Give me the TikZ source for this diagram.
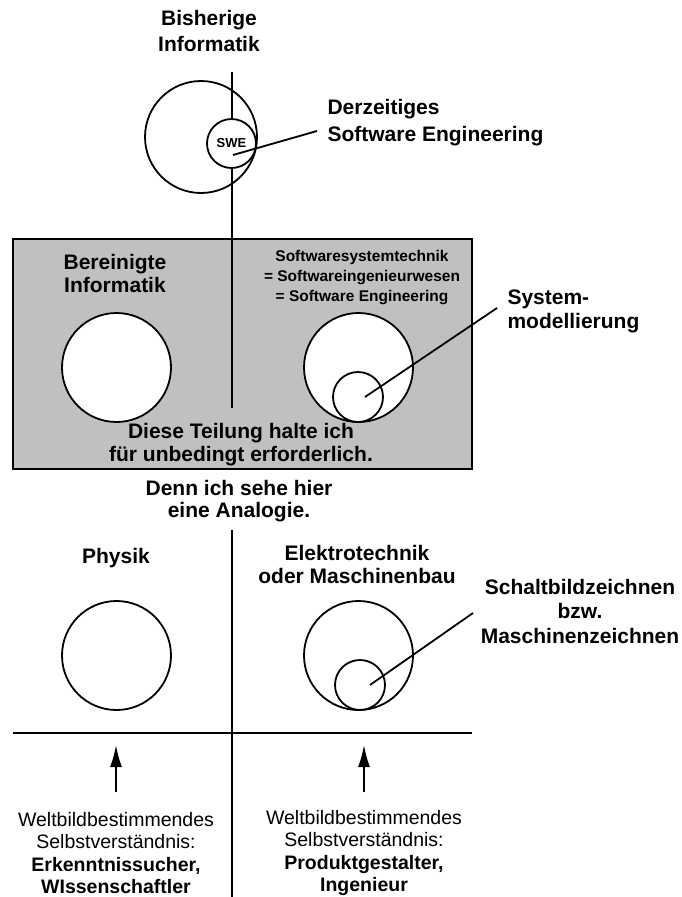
\documentclass[tikz,border=0pt]{standalone}
\usepackage{fontspec}
\setmainfont{Liberation Sans}
\usetikzlibrary{arrows.meta}
\definecolor{boxgray}{RGB}{192,192,192}
\tikzset{ %inner sep = 0.5mm,
  >={Latex[length=22pt,width=12pt]},
  {line/.style} ={draw,line width=1.8pt},
  {ring/.style} ={circle,draw,line width=1.8pt,inner sep=0,minimum size=#1},
  {ring/.default} =109pt,
  {white ring/.style} ={ring=#1,fill=white},
  {white ring/.default} =109pt,
  {heading/.style} ={align=center,font=\bfseries\fontsize{21}{#1}\selectfont},
  {heading/.default} =24pt,
  {left heading/.style} ={heading=#1,align=left,anchor=west},
  {small heading/.style} ={align=center,font=\bfseries\fontsize{15.5}{20}\selectfont},
  {role/.style} ={align=center,inner sep=0,font=\fontsize{19.5}{22.5}\selectfont},
}

\begin{document}
\begin{tikzpicture}[x=1pt,y=-1pt]
\useasboundingbox (0,0) rectangle (681,897);
\draw[line,fill=boxgray] (13,239) rectangle (472,469);
% bisherige Informatik
\node[heading=26pt] (bisher) at (209,31) {Bisherige\\Informatik};
\node[ring=112pt] (inf) at (201,137) {};
\draw[line] (232,72) -- (232,408);
\node[white ring=49pt,font=\bfseries\fontsize{13}{15}\selectfont] (swe) at (231.5,143.5) {SWE};
\node[left heading=27pt] (derz) at (324,123) {Derzeitiges\\Software Engineering};
\coordinate (swe end) at (233,155);
\coordinate (derz end) at (317,131);
\draw[line] (swe end) -- (derz end);
% bereinigte Informatik und Softwaresystemtechnik
\node[heading=23pt] (bereinigt) at (115,273) {Bereinigte\\Informatik};
\node[white ring] (binf) at (116.5,367.5) {};
\node[small heading] (swsys) at (362,278) {Softwaresystemtechnik\\= Softwareingenieurwesen\\= Software Engineering};
\node[white ring] (swt) at (358.5,367.5) {};
\node[white ring=50pt] (sysmod) at (358,397) {};
\node[left heading=24pt] (sysmodtext) at (504,311) {System-\\modellierung};
\coordinate (sysmod end) at (365,397);
\coordinate (sysmodtext end) at (497,308);
\draw[line] (sysmod end) -- (sysmodtext end);
\node[heading=23pt] (teilung) at (241,445) {Diese Teilung halte ich\\für unbedingt erforderlich.};
\node[heading=22pt] (analogie) at (239,501) {Denn ich sehe hier\\eine Analogie.};
% Analogie
\draw[line] (232,530) -- (232,897);
\draw[line] (13,733) -- (472,733);
\node[heading] (physik) at (116,558) {Physik};
\node[ring] (phys) at (116.5,655.5) {};
\node[heading=23pt] (etechnik) at (357,564) {Elektrotechnik\\oder Maschinenbau};
\node[ring] (etech) at (358.5,655.5) {};
\node[ring=50pt] (schalt) at (360,685) {};
\node[heading=24.5pt] (schalttext) at (580,611) {Schaltbildzeichnen\\bzw.\\Maschinenzeichnen};
\coordinate (schalt end) at (370,685);
\coordinate (schalttext end) at (473,613);
\draw[line] (schalt end) -- (schalttext end);
\node[role] (forscher) at (116,853) {Weltbildbestimmendes\\Selbstverständnis:\\\textbf{Erkenntnissucher,}\\\textbf{WIssenschaftler}};
\node[role] (ingenieur) at (364,853) {Weltbildbestimmendes\\Selbstverständnis:\\\textbf{Produktgestalter,}\\\textbf{Ingenieur}};
\coordinate (forscher top) at (116,792);
\coordinate (ingenieur top) at (364,792);
\coordinate (physik arrow) at (116,745);
\coordinate (etechnik arrow) at (364,745);
\draw[line,->] (forscher top) -- (physik arrow);
\draw[line,->] (ingenieur top) -- (etechnik arrow);
\end{tikzpicture}
\end{document}
